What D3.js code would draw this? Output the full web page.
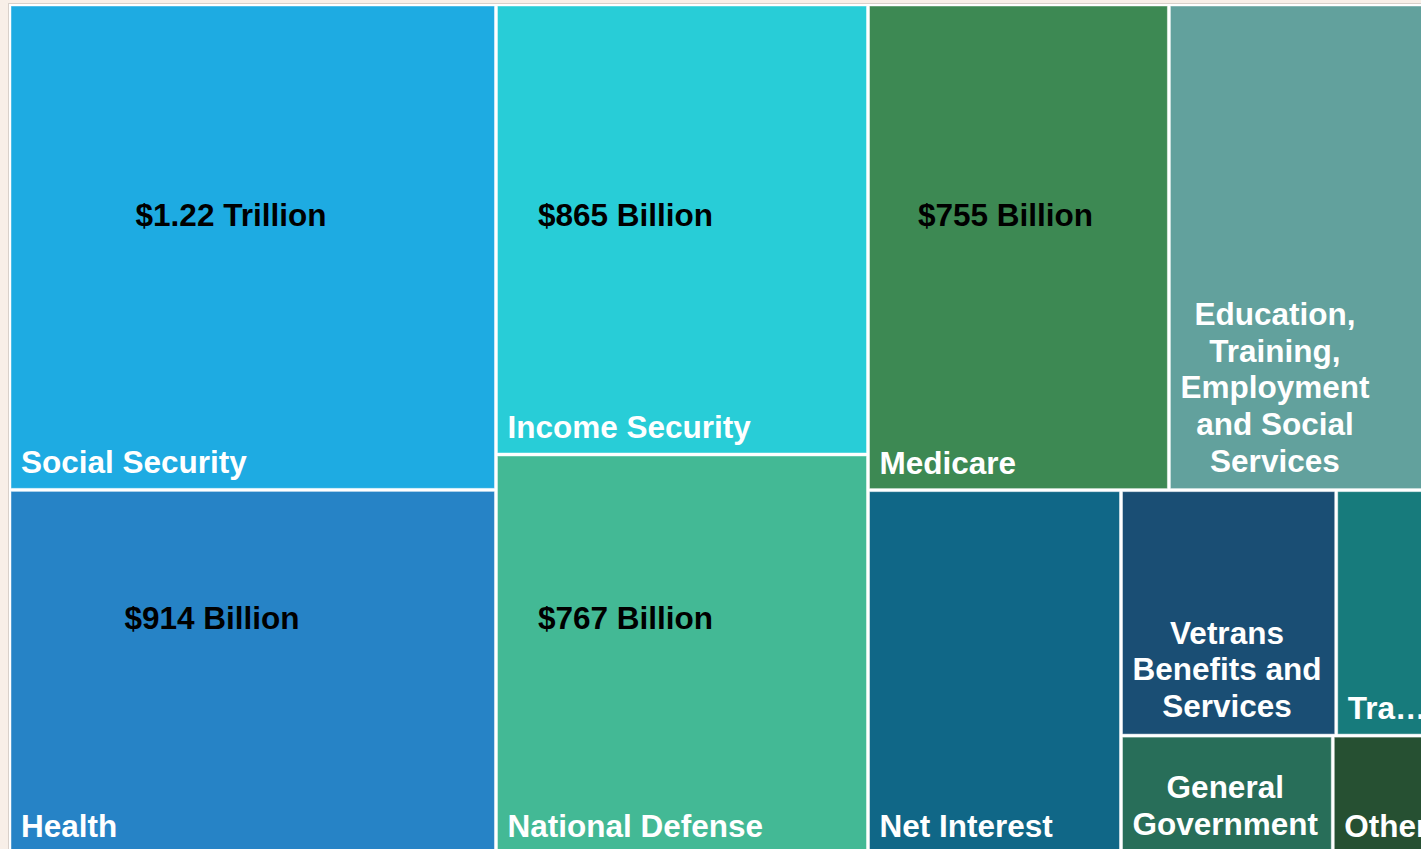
<!DOCTYPE html>
<html lang="en">
<head>
  <meta charset="UTF-8">
  <title>Federal Spending Treemap</title>
  <style>
    * {
      box-sizing: border-box;
      margin: 0;
    }
    body {
      background-color: #f8efe8;
      overflow: hidden;
      font-family: "Liberation Sans", Arial, sans-serif;
    }
    svg {
      display: block;
    }
    .cell-label {
      fill: #fff;
      font-weight: bold;
      font-size: 31.5px;
    }
    .value-label {
      fill: #000;
      font-weight: bold;
      font-size: 31.5px;
    }
  </style>
</head>
<body>
  <svg></svg>
  <script src="https://d3js.org/d3.v7.min.js"></script>
  <script>
    // spending categories, in billions of dollars
    const categories = [
      'Social Security', 'Health', 'Income Security', 'National Defense', 'Medicare',
      'Education, Training, Employment and Social Services', 'Net Interest',
      'Vetrans Benefits and Services', 'Transportation', 'General Government', 'Other'
    ];
    const values = [1220, 914, 865, 767, 755, 679, 475, 273, 131, 129, 65];
    const valueLabels = [
      '$1.22 Trillion', '$914 Billion', '$865 Billion', '$767 Billion', '$755 Billion',
      '', '', '', '', '', ''
    ];
    const palette = [
      '#1eabe2', '#2683c6', '#28cdd7', '#43b995', '#3d8953',
      '#62a19d', '#106787', '#1a4e74', '#177b7c', '#286e59', '#265032'
    ];

    // where the value annotations sit inside their cell (offset from top left)
    const valueOffset = {
      'Social Security': [220, 220],
      'Health': [201, 138],
      'Income Security': [128, 220],
      'National Defense': [128, 173],
      'Medicare': [136, 220]
    };

    const width = 1421;
    const height = 849;
    const marginLeft = 11;
    const marginTop = 6;
    const mapWidth = 1427;
    const mapHeight = 846;
    const lineHeight = 36.7;

    const svg = d3.select('svg')
      .attr('width', width)
      .attr('height', height);

    // white panel with its thin border
    svg.append('rect')
      .attr('x', 8.5)
      .attr('y', 3.5)
      .attr('width', mapWidth + 10)
      .attr('height', mapHeight + 10)
      .attr('fill', '#fff')
      .attr('stroke', '#d8d0ca');

    const color = d3.scaleOrdinal().domain(categories).range(palette);

    const root = d3.hierarchy({
        children: categories.map((c, i) => ({ name: c, value: values[i], label: valueLabels[i] }))
      })
      .sum(d => d.value || 0)
      .sort((a, b) => b.value - a.value);

    d3.treemap()
      .tile(d3.treemapSquarify.ratio(1.2))
      .size([mapWidth, mapHeight])
      .paddingInner(3)
      .round(false)(root);

    const main = svg.append('g')
      .attr('transform', 'translate(' + marginLeft + ',' + marginTop + ')');

    const cells = main.selectAll('.cell')
      .data(root.leaves())
      .enter()
      .append('g')
      .attr('class', 'cell');

    cells.append('rect')
      .attr('x', d => d.x0)
      .attr('y', d => d.y0)
      .attr('width', d => d.x1 - d.x0)
      .attr('height', d => d.y1 - d.y0)
      .attr('fill', d => color(d.data.name))
      .attr('stroke', 'rgba(255,255,255,.45)')
      .attr('stroke-width', 1);

    // measuring text for the wrapping
    const measure = svg.append('text')
      .attr('class', 'cell-label')
      .attr('visibility', 'hidden');

    function textWidth(s) {
      measure.text(s);
      return measure.node().getComputedTextLength();
    }

    function wrap(text, maxW) {
      const words = text.split(' ');
      const lines = [];
      let line = '';
      words.forEach(w => {
        const next = line ? line + ' ' + w : w;
        if (!line || textWidth(next) <= maxW) {
          line = next;
        } else {
          lines.push(line);
          line = w;
        }
      });
      lines.push(line);
      // cut words that still do not fit
      return lines.map(l => {
        if (textWidth(l) <= maxW) return l;
        let s = l;
        while (s.length > 1 && textWidth(s + '\u2026') > maxW) s = s.slice(0, -1);
        return s + '\u2026';
      });
    }

    cells.each(function(d) {
      const g = d3.select(this);
      const w = d.x1 - d.x0;
      const lines = wrap(d.data.name, w - 18);
      const blockW = d3.max(lines, l => textWidth(l));
      const cx = d.x0 + 10 + blockW / 2;
      const lastY = d.y1 - (lines.length > 1 ? 17 : 15);

      const label = g.append('text')
        .attr('class', 'cell-label')
        .attr('text-anchor', 'middle');

      label.selectAll('tspan')
        .data(lines)
        .enter()
        .append('tspan')
        .attr('x', cx)
        .attr('y', (l, i) => lastY - (lines.length - 1 - i) * lineHeight)
        .text(l => l);

      if (d.data.label) {
        const off = valueOffset[d.data.name];
        g.append('text')
          .attr('class', 'value-label')
          .attr('text-anchor', 'middle')
          .attr('x', d.x0 + off[0])
          .attr('y', d.y0 + off[1])
          .text(d.data.label);
      }
    });

    measure.remove();
  </script>
</body>
</html>
